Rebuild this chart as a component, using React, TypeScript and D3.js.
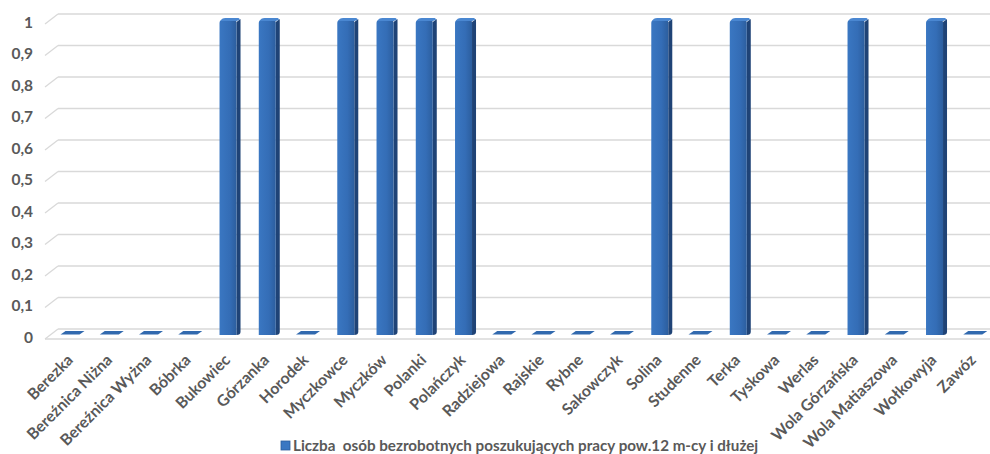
import { useEffect, useRef } from 'react'
import * as d3 from 'd3'

const categories = [
  'Berezka', 'Bereźnica Niżna', 'Bereźnica Wyżna', 'Bóbrka', 'Bukowiec', 'Górzanka',
  'Horodek', 'Myczkowce', 'Myczków', 'Polanki', 'Polańczyk', 'Radziejowa', 'Rajskie',
  'Rybne', 'Sakowczyk', 'Solina', 'Studenne', 'Terka', 'Tyskowa', 'Werlas',
  'Wola Górzańska', 'Wola Matiaszowa', 'Wołkowyja', 'Zawóz',
]
const values = [0, 0, 0, 0, 1, 1, 0, 1, 1, 1, 1, 0, 0, 0, 0, 1, 0, 1, 0, 0, 1, 0, 1, 0]
const yTicks = [0, 0.1, 0.2, 0.3, 0.4, 0.5, 0.6, 0.7, 0.8, 0.9, 1]
const seriesName = 'Liczba  osób bezrobotnych poszukujących pracy pow.12 m-cy i dłużej'

const W = 990
const H = 454
const FONT = 'Lato, "Open Sans", sans-serif'
const TEXT = '#595959'

export default function App() {
  const svgRef = useRef<SVGSVGElement>(null)

  useEffect(() => {
    document.body.style.margin = '0'
    document.body.style.overflow = 'hidden'
    if (!svgRef.current) return
    const svg = d3.select(svgRef.current)
    svg.selectAll('*').remove()

    // perspektywa 3D
    const dx = 13
    const dy = 10
    const x = d3.scaleBand<string>().domain(categories).range([52.4, 994.4])
    const y = d3.scaleLinear().domain([0, 1]).range([329, 14])
    const fmt = (v: number) => String(v).replace('.', ',')

    const defs = svg.append('defs')
    const grad = defs.append('linearGradient').attr('id', 'front').attr('x1', 0).attr('x2', 1)
    grad.append('stop').attr('offset', '0%').attr('stop-color', '#3a77c2')
    grad.append('stop').attr('offset', '60%').attr('stop-color', '#346db6')
    grad.append('stop').attr('offset', '100%').attr('stop-color', '#2c5e9e')

    // siatka (tylna ściana + skos)
    const grid = svg.append('g')
    yTicks.forEach(t => {
      const yy = y(t)
      grid.append('line')
        .attr('x1', 58).attr('x2', W).attr('y1', yy).attr('y2', yy)
        .attr('stroke', '#d9d9d9').attr('stroke-width', 1.3)
      grid.append('line')
        .attr('x1', 58 - dx).attr('y1', yy + dy).attr('x2', 58).attr('y2', yy)
        .attr('stroke', '#d9d9d9').attr('stroke-width', 1.3)
      svg.append('text')
        .attr('x', 33).attr('y', yy + dy)
        .attr('text-anchor', 'end').attr('dominant-baseline', 'middle')
        .attr('font-family', FONT).attr('font-weight', 'bold').attr('font-size', 15.5)
        .attr('fill', TEXT)
        .text(fmt(t))
    })
    // przednia krawędź podłogi
    grid.append('line')
      .attr('x1', 58 - dx).attr('x2', W).attr('y1', y(0) + dy).attr('y2', y(0) + dy)
      .attr('stroke', '#d9d9d9').attr('stroke-width', 1.3)

    // słupki
    const bw = 17
    const side = 4
    const bars = svg.append('g')
    categories.forEach((c, i) => {
      const v = values[i]
      const cx = x(c)! + x.bandwidth() / 2
      const left = cx - bw / 2 - 1
      const bottom = y(0) + 6
      if (v === 0) {
        const yb = y(0) + 5.5
        bars.append('path')
          .attr('d', `M${left - 2},${yb} L${left + bw},${yb} L${left + bw + 5},${yb - 3.5} L${left + 3},${yb - 3.5} Z`)
          .attr('fill', '#3169ae')
        return
      }
      const top = y(v) + 6
      // bok
      bars.append('path')
        .attr('d', `M${left + bw},${top + 2} L${left + bw + side},${top - 1} L${left + bw + side},${bottom - 3} Q${left + bw + side},${bottom} ${left + bw},${bottom} Z`)
        .attr('fill', '#1f4376')
      // przód
      bars.append('path')
        .attr('d', `M${left},${bottom} L${left},${top + 3} Q${left},${top} ${left + 3},${top} L${left + bw - 2},${top} Q${left + bw},${top} ${left + bw},${top + 3} L${left + bw},${bottom} Z`)
        .attr('fill', 'url(#front)')
      // góra
      bars.append('path')
        .attr('d', `M${left + 1},${top + 1} Q${left + 2},${top - 2} ${left + 6},${top - 2} L${left + bw + side - 2},${top - 2} Q${left + bw + side},${top - 1} ${left + bw + side - 1},${top} L${left + bw},${top + 1} Z`)
        .attr('fill', '#4a87d1')
    })

    // etykiety osi X
    categories.forEach(c => {
      const cx = x(c)! + x.bandwidth() / 2
      svg.append('text')
        .attr('transform', `translate(${cx + 2},${361}) rotate(-45)`)
        .attr('text-anchor', 'end')
        .attr('font-family', FONT).attr('font-weight', 'bold').attr('font-size', 15.8)
        .attr('fill', TEXT)
        .text(c)
    })

    // legenda
    const lg = svg.append('g').attr('transform', 'translate(281,441)')
    lg.append('rect').attr('width', 9).attr('height', 9).attr('fill', '#3a77c2')
      .attr('stroke', '#2c5e9e').attr('stroke-width', 0.8)
    lg.append('text')
      .attr('x', 12).attr('y', 10)
      .attr('font-family', FONT).attr('font-weight', 'bold').attr('font-size', 15.2)
      .attr('fill', TEXT)
      .style('white-space', 'pre')
      .text(seriesName)
  }, [])

  return (
    <svg ref={svgRef} width={W} height={H} style={{ display: 'block', background: '#fff' }} />
  )
}
